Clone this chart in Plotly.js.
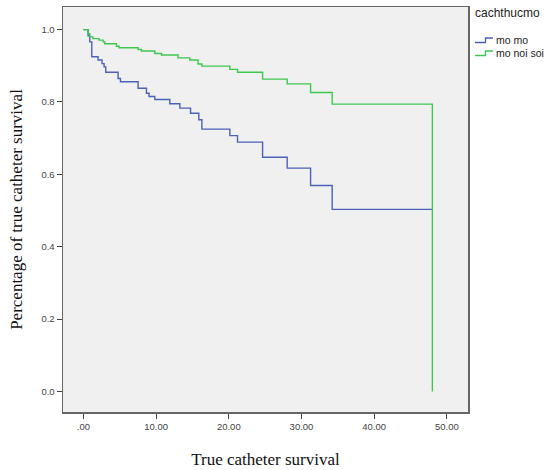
<!DOCTYPE html>
<html>
<head>
<meta charset="utf-8">
<script src="https://cdn.plot.ly/plotly-3.0.1.min.js"></script>
<style>html,body{margin:0;padding:0;background:#fff;}#chart{width:546px;height:470px;}</style>
</head>
<body>
<div id="chart"></div>
<script>
// Kaplan-Meier survival estimates
const groupNames = ["mo mo", "mo noi soi"];
const legendTitle = "cachthucmo";

const timeMoMo = [0, 0.65, 0.88, 1.16, 2.02, 2.57, 2.85, 3.08, 4.78, 5.10, 7.53, 8.68, 9.04, 9.83, 11.89, 13.27, 14.74, 15.88, 16.30, 20.15, 21.20, 24.65, 28.03, 31.25, 34.22, 48.00];
const survMoMo = [1.000, 0.983, 0.966, 0.925, 0.916, 0.906, 0.897, 0.882, 0.865, 0.856, 0.838, 0.824, 0.815, 0.807, 0.795, 0.783, 0.769, 0.751, 0.725, 0.707, 0.689, 0.647, 0.617, 0.569, 0.503, 0.503];

const timeNoiSoi = [0, 0.65, 0.88, 1.30, 2.16, 2.71, 2.94, 4.55, 4.91, 7.53, 8.00, 9.83, 10.75, 13.03, 14.64, 15.78, 16.30, 20.15, 21.20, 24.65, 28.03, 31.25, 34.22, 48.00, 48.00];
const survNoiSoi = [1.000, 0.989, 0.980, 0.975, 0.971, 0.966, 0.961, 0.954, 0.950, 0.945, 0.941, 0.934, 0.930, 0.922, 0.916, 0.905, 0.899, 0.890, 0.882, 0.863, 0.850, 0.826, 0.794, 0.794, 0.000];

const xTickVals = [0, 10, 20, 30, 40, 50];
const xTickText = [".00", "10.00", "20.00", "30.00", "40.00", "50.00"];
const yTickVals = [0, 0.2, 0.4, 0.6, 0.8, 1.0];
const yTickText = ["0.0", "0.2", "0.4", "0.6", "0.8", "1.0"];

const xTitle = "True catheter survival";
const yTitle = "Percentage of true catheter survival";

const colors = ["#4a62b8", "#3cc84e"];

const traces = [
  {x: timeMoMo, y: survMoMo, name: groupNames[0], type: "scatter", mode: "lines",
   line: {shape: "hv", color: colors[0], width: 1.4}},
  {x: timeNoiSoi, y: survNoiSoi, name: groupNames[1], type: "scatter", mode: "lines",
   line: {shape: "hv", color: colors[1], width: 1.4}}
];

// layout geometry (pixels)
const W = 546, H = 470;
const M = {l: 63, r: 78, t: 7, b: 58};
const plotW = W - M.l - M.r, plotH = H - M.t - M.b;
const px2x = p => (p - M.l) / plotW;
const py2y = p => (H - M.b - p) / plotH;

// manual legend (SPSS style step icons)
const legFont = {family: "Liberation Sans, Arial, sans-serif", size: 10.5, color: "#222"};
const annotations = [{
  text: legendTitle, xref: "paper", yref: "paper", x: px2x(473), y: py2y(13),
  xanchor: "left", yanchor: "middle", showarrow: false,
  font: {family: "Liberation Sans, Arial, sans-serif", size: 12, color: "#222"}
}];
const shapes = [];
groupNames.forEach((name, i) => {
  const cy = 40 + i * 13;
  annotations.push({
    text: name, xref: "paper", yref: "paper", x: px2x(494), y: py2y(cy),
    xanchor: "left", yanchor: "middle", showarrow: false, font: legFont
  });
  const path = "M " + px2x(475) + "," + py2y(cy + 2.5) +
               " L " + px2x(485.5) + "," + py2y(cy + 2.5) +
               " L " + px2x(485.5) + "," + py2y(cy - 2) +
               " L " + px2x(493) + "," + py2y(cy - 2);
  shapes.push({type: "path", xref: "paper", yref: "paper", path: path,
               line: {color: colors[i], width: 1.3}});
});

const tickFont = {family: "Liberation Sans, Arial, sans-serif", size: 9.5, color: "#444"};
const titleFont = {family: "Liberation Serif, Times New Roman, serif", size: 17, color: "#111"};

const layout = {
  width: W, height: H,
  margin: {l: M.l, r: M.r, t: M.t, b: M.b, autoexpand: false},
  paper_bgcolor: "#ffffff",
  plot_bgcolor: "#f0f0f0",
  showlegend: false,
  annotations: annotations,
  shapes: shapes,
  xaxis: {
    range: [-2.8, 52.9], tickvals: xTickVals, ticktext: xTickText,
    ticks: "outside", ticklen: 5, tickcolor: "#444", tickwidth: 1,
    showgrid: false, zeroline: false, showline: true, mirror: true,
    linecolor: "#666", linewidth: 1.5, tickfont: tickFont,
    title: {text: xTitle, font: titleFont, standoff: 22}
  },
  yaxis: {
    range: [-0.057, 1.0625], tickvals: yTickVals, ticktext: yTickText,
    ticks: "outside", ticklen: 5, tickcolor: "#444", tickwidth: 1,
    showgrid: false, zeroline: false, showline: true, mirror: true,
    linecolor: "#666", linewidth: 1.5, tickfont: tickFont,
    title: {text: yTitle, font: titleFont, standoff: 14}
  }
};

Plotly.newPlot("chart", traces, layout, {displayModeBar: false, staticPlot: true});
</script>
</body>
</html>
